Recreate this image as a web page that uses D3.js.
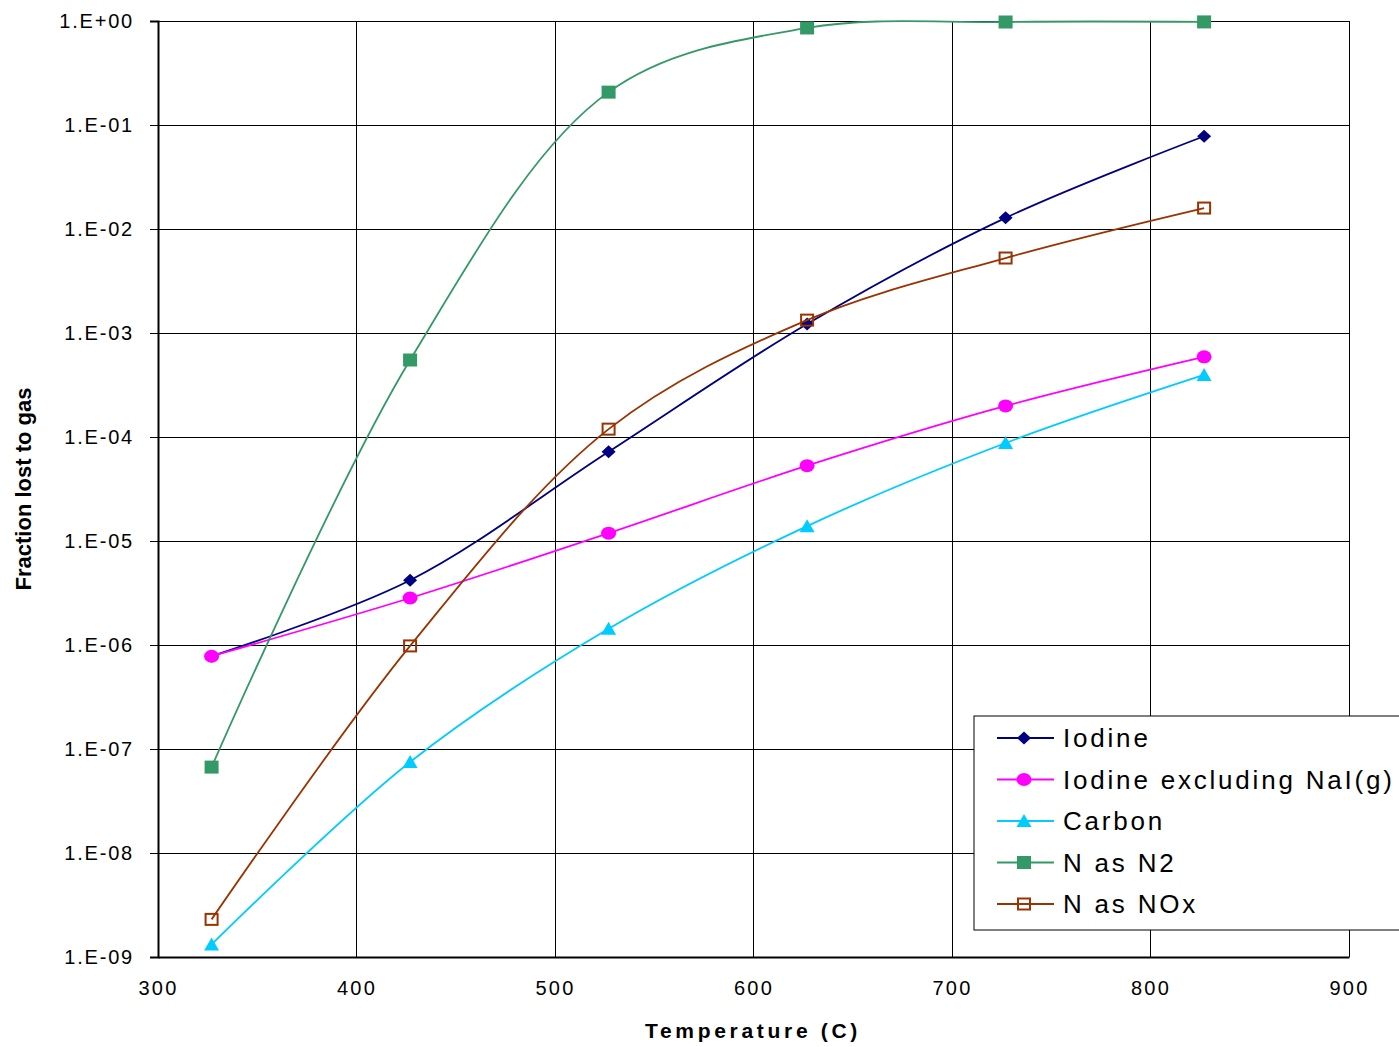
<!DOCTYPE html>
<html>
<head>
<meta charset="utf-8">
<script src="https://cdn.jsdelivr.net/npm/d3@7"></script>
<style>
  body { margin: 0; background: #fff; }
  svg { display: block; font-family: "Liberation Sans", Arial, sans-serif; }
</style>
</head>
<body>
<svg id="chart" width="1399" height="1047"></svg>
<script>
const temps = [327, 427, 527, 627, 727, 827]
const iodine = [7.8e-7, 4.2e-6, 7.2e-5, 1.22e-3, 1.28e-2, 7.8e-2]
const iodineNoNaI = [7.8e-7, 2.83e-6, 1.19e-5, 5.3e-5, 1.99e-4, 5.9e-4]
const carbon = [1.32e-9, 7.5e-8, 1.43e-6, 1.39e-5, 8.75e-5, 3.95e-4]
const nN2 = [6.7e-8, 5.5e-4, 0.207, 0.857, 0.978, 0.98]
const nNOx = [2.3e-9, 9.8e-7, 1.19e-4, 1.33e-3, 5.26e-3, 1.59e-2]
const xTicks = [300, 400, 500, 600, 700, 800, 900]
const yTicks = [1, 1e-1, 1e-2, 1e-3, 1e-4, 1e-5, 1e-6, 1e-7, 1e-8, 1e-9]

const series = [
  {name: "Iodine", values: iodine, color: "#000080", marker: "diamond"},
  {name: "Iodine excluding NaI(g)", values: iodineNoNaI, color: "#ff00ff", marker: "circle"},
  {name: "Carbon", values: carbon, color: "#00ccff", marker: "triangle"},
  {name: "N as N2", values: nN2, color: "#339966", marker: "square"},
  {name: "N as NOx", values: nNOx, color: "#993300", marker: "hollow"}
]

const margins = {left: 158, top: 21, right: 50, bottom: 90}
const svg = d3.select("#chart")
const width = +svg.attr("width"), height = +svg.attr("height")
const innerW = width - margins.left - margins.right
const innerH = height - margins.top - margins.bottom

const x = d3.scaleLinear().domain([300, 900]).range([0, innerW])
const y = d3.scaleLog().domain([1e-9, 1]).range([innerH, 0])

const g = svg.append("g").attr("transform", `translate(${margins.left}, ${margins.top})`)

// grid
g.append("g").selectAll("line").data(xTicks).join("line")
  .attr("x1", d => x(d)).attr("x2", d => x(d))
  .attr("y1", 0).attr("y2", innerH)
  .attr("stroke", "#000").attr("stroke-width", 1).attr("shape-rendering", "crispEdges")
g.append("g").selectAll("line").data(yTicks).join("line")
  .attr("x1", 0).attr("x2", innerW)
  .attr("y1", d => y(d)).attr("y2", d => y(d))
  .attr("stroke", "#000").attr("stroke-width", 1).attr("shape-rendering", "crispEdges")

const fmt = d => {
  const e = Math.round(Math.log10(d))
  const s = e < 0 ? "-" : "+"
  return "1.E" + s + String(Math.abs(e)).padStart(2, "0")
}

const yAxis = g.append("g")
  .call(d3.axisLeft(y).tickValues(yTicks).tickFormat(fmt).tickSize(8).tickPadding(16))
yAxis.select(".domain").attr("stroke-width", 2)
yAxis.selectAll("text").attr("font-size", 20).attr("letter-spacing", 1.8).attr("fill", "#000")

const xAxis = g.append("g").attr("transform", `translate(0, ${innerH})`)
  .call(d3.axisBottom(x).tickValues(xTicks).tickSize(0).tickPadding(24))
xAxis.select(".domain").attr("stroke-width", 2)
xAxis.selectAll("text").attr("font-size", 20).attr("letter-spacing", 2.2).attr("fill", "#000")

// axis titles
svg.append("text")
  .attr("x", 753).attr("y", 1038)
  .attr("text-anchor", "middle")
  .attr("font-size", 21).attr("font-weight", "bold").attr("letter-spacing", 3.7)
  .text("Temperature (C)")
svg.append("text")
  .attr("transform", "translate(31, 489) rotate(-90)")
  .attr("text-anchor", "middle")
  .attr("font-size", 22).attr("font-weight", "bold")
  .text("Fraction lost to gas")

// lines
const line = d3.line()
  .x(d => x(d[0]))
  .y(d => y(d[1]))
  .curve(d3.curveCatmullRom.alpha(0.5))

function drawMarker(sel, kind, color) {
  if (kind === "diamond") {
    sel.append("path").attr("d", "M0,-6.5L7,0L0,6.5L-7,0Z").attr("fill", color)
  } else if (kind === "circle") {
    sel.append("ellipse").attr("rx", 7.5).attr("ry", 6.5).attr("fill", color)
  } else if (kind === "triangle") {
    sel.append("path").attr("d", "M0,-7L7.5,6L-7.5,6Z").attr("fill", color)
  } else if (kind === "square") {
    sel.append("rect").attr("x", -7).attr("y", -6.5).attr("width", 14).attr("height", 13).attr("fill", color)
  } else {
    sel.append("rect").attr("x", -6).attr("y", -5.5).attr("width", 12).attr("height", 11)
      .attr("fill", "none").attr("stroke", color).attr("stroke-width", 2)
  }
}

series.forEach(s => {
  const pts = temps.map((t, i) => [t, s.values[i]])
  g.append("path").datum(pts)
    .attr("d", line)
    .attr("fill", "none").attr("stroke", s.color).attr("stroke-width", 1.8)
  g.append("g").selectAll("g").data(pts).join("g")
    .attr("transform", d => `translate(${x(d[0])}, ${y(d[1])})`)
    .each(function () { drawMarker(d3.select(this), s.marker, s.color) })
})

// legend
const lg = svg.append("g").attr("transform", "translate(974, 716)")
lg.append("rect").attr("width", 440).attr("height", 214)
  .attr("fill", "#fff").attr("stroke", "#000").attr("stroke-width", 1)
series.forEach((s, i) => {
  const row = lg.append("g").attr("transform", `translate(0, ${22 + i * 41.5})`)
  row.append("line").attr("x1", 23).attr("x2", 80).attr("stroke", s.color).attr("stroke-width", 1.8)
  const m = row.append("g").attr("transform", "translate(50, 0)")
  drawMarker(m, s.marker, s.color)
  row.append("text").attr("x", 89).attr("y", 9)
    .attr("font-size", 26).attr("letter-spacing", 2.8)
    .text(s.name)
})
</script>
</body>
</html>
